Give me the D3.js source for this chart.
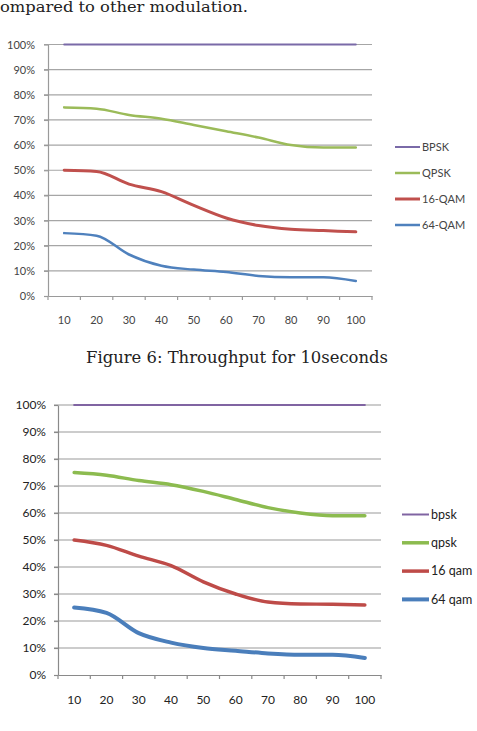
<!DOCTYPE html>
<html><head><meta charset="utf-8">
<script src="https://cdn.jsdelivr.net/npm/d3@7"></script>
<style>
html,body{margin:0;padding:0;background:#fff;}
svg{display:block;}
</style></head>
<body>
<svg id="root" width="477" height="731"></svg>
<script>
// ---------- DATA ----------
const categories = ["10","20","30","40","50","60","70","80","90","100"];
const yTicks = [0,10,20,30,40,50,60,70,80,90,100];

// Chart 1 (top)
const names1 = ["BPSK","QPSK","16-QAM","64-QAM"];
const bpsk1  = [100,100,100,100,100,100,100,100,100,100];
const qpsk1  = [75,74.5,72,70.5,68,65.5,63,60,59,59];
const qam16_1 = [50,49.5,44.5,41.5,36,31,28,26.5,26,25.5];
const qam64_1 = [25,24,16.5,12,10.5,9.5,8,7.5,7.5,6];

// Chart 2 (bottom)
const names2 = ["bpsk","qpsk","16 qam","64 qam"];
const bpsk2  = [100,100,100,100,100,100,100,100,100,100];
const qpsk2  = [75,74,72,70.5,68,65,62,60,59,59];
const qam16_2 = [50,48,44,40.5,34.5,30,27,26.3,26.2,25.9];
const qam64_2 = [25,23,15.5,12,10,9,8,7.5,7.5,6.3];

const headText = "ompared to other modulation.";
const captionText = "Figure 6: Throughput for 10seconds";

// ---------- DRAW ----------
const svg = d3.select("#root");

svg.append("text").attr("x",0).attr("y",12)
  .attr("font-family","'DejaVu Serif', serif").attr("font-size",14)
  .attr("fill","#222").attr("textLength",248).attr("lengthAdjust","spacingAndGlyphs")
  .text(headText);

svg.append("text").attr("x",86).attr("y",363)
  .attr("font-family","'DejaVu Serif', serif").attr("font-size",16)
  .attr("fill","#222").attr("textLength",302).attr("lengthAdjust","spacingAndGlyphs")
  .text(captionText);

function drawChart(cfg){
  const g = svg.append("g");
  const x = d3.scaleBand().domain(categories).range([cfg.left,cfg.right]);
  const y = d3.scaleLinear().domain([0,100]).range([cfg.bottom,cfg.top]);

  // gridlines
  g.selectAll("line.grid").data(yTicks.filter(d=>d>0)).join("line")
    .attr("x1",cfg.left-4).attr("x2",cfg.right)
    .attr("y1",d=>y(d)).attr("y2",d=>y(d))
    .attr("stroke",cfg.grid).attr("stroke-width",1.2);

  // y axis
  const ya = g.append("g").attr("transform",`translate(${cfg.left},0)`)
    .call(d3.axisLeft(y).tickValues(yTicks).tickFormat(d=>d+"%").tickSizeInner(4).tickSizeOuter(0).tickPadding(cfg.yPad));
  ya.select(".domain").attr("stroke",cfg.axis).attr("stroke-width",1.2);
  ya.selectAll(".tick line").attr("stroke",cfg.axis).attr("stroke-width",1.2);
  ya.selectAll("text").attr("font-family","Lato, 'Open Sans', sans-serif").attr("font-size",cfg.fs).attr("fill",cfg.textColor);

  // x axis
  const xa = g.append("g").attr("transform",`translate(0,${cfg.bottom})`)
    .call(d3.axisBottom(x).tickSize(0).tickPadding(cfg.xPad));
  xa.select(".domain").attr("stroke",cfg.axis).attr("stroke-width",1.2);
  xa.selectAll("text").attr("font-family","Lato, 'Open Sans', sans-serif").attr("font-size",cfg.fs).attr("fill",cfg.textColor);
  // boundary ticks
  const bounds = categories.map(c=>x(c)).concat([cfg.right]);
  g.selectAll("line.xt").data(bounds).join("line")
    .attr("x1",d=>d).attr("x2",d=>d).attr("y1",cfg.bottom).attr("y2",cfg.bottom+4)
    .attr("stroke",cfg.axis).attr("stroke-width",1.2);

  const line = d3.line().x((d,i)=>x(categories[i])+x.bandwidth()/2).y(d=>y(d)).curve(d3.curveMonotoneX);
  cfg.series.forEach((s,i)=>{
    g.append("path").datum(s).attr("d",line).attr("fill","none")
      .attr("stroke",cfg.colors[i]).attr("stroke-width",cfg.widths[i])
      .attr("stroke-linecap","round").attr("stroke-linejoin","round");
    const ly = cfg.legY + i*cfg.legStep;
    g.append("line").attr("x1",cfg.legX).attr("x2",cfg.legX+cfg.legLen).attr("y1",ly).attr("y2",ly)
      .attr("stroke",cfg.colors[i]).attr("stroke-width",cfg.widths[i]);
    g.append("text").attr("x",cfg.legX+cfg.legLen+2).attr("y",ly).attr("dy","0.35em")
      .attr("font-family","Lato, 'Open Sans', sans-serif").attr("font-size",cfg.legFs).attr("fill",cfg.textColor)
      .text(cfg.names[i]);
  });
}

drawChart({
  left:48, right:372, top:44.5, bottom:296,
  series:[bpsk1,qpsk1,qam16_1,qam64_1], names:names1,
  colors:["#7a6aa8","#9bbb59","#c0504d","#4f81bd"], widths:[2,2.5,3,2.5],
  grid:"#a6a6a6", axis:"#9a9a9a", textColor:"#444", fs:11, yPad:9, xPad:20,
  legX:395, legLen:25, legY:147, legStep:26, legFs:11
});

drawChart({
  left:58, right:381, top:405, bottom:675,
  series:[bpsk2,qpsk2,qam16_2,qam64_2], names:names2,
  colors:["#8064a2","#8cbb4f","#be4b48","#4a7ebb"], widths:[2,3.5,3.5,4],
  grid:"#9a9a9a", axis:"#8a8a8a", textColor:"#222", fs:12, yPad:8, xPad:20,
  legX:402, legLen:27, legY:514.5, legStep:28.3, legFs:12.5
});
</script>
</body></html>
